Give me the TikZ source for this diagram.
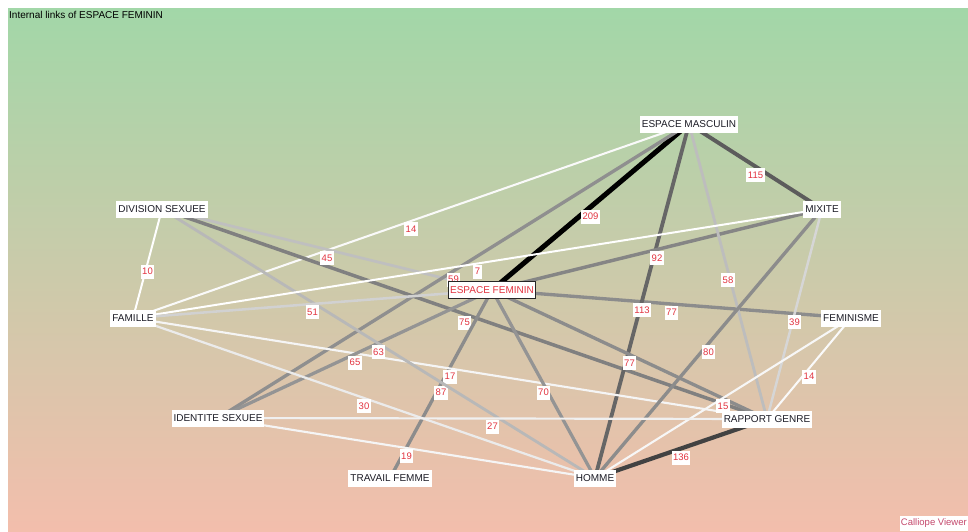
\documentclass[tikz,border=0pt]{standalone}
\usepackage{fontspec}
\setmainfont{Liberation Sans}
\usepackage{xcolor}
\usetikzlibrary{backgrounds}

\definecolor{bg_top}{RGB}{162,215,168}
\definecolor{bg_mid}{RGB}{208,204,164}
\definecolor{bg_bottom}{RGB}{243,190,172}
\definecolor{num_red}{RGB}{226,52,64}
\definecolor{term_ink}{RGB}{28,28,38}
\definecolor{viewer_pink}{RGB}{196,72,108}

\begin{document}
\begin{tikzpicture}[
    x=1pt, y=-1pt,
    term_node/.style={
        rectangle,
        fill=white,
        inner xsep=2pt,
        inner ysep=1pt,
        minimum height=17pt,
        text=term_ink,
        font=\fontsize{10}{11}\selectfont
    },
    focus_node/.style={
        term_node,
        draw=black!85,
        line width=0.9pt,
        text=num_red
    },
    weight_label/.style={
        rectangle,
        fill=white,
        inner xsep=1.5pt,
        inner ysep=0pt,
        minimum height=14pt,
        text=num_red,
        font=\fontsize{9.5}{10}\selectfont,
        midway,
        anchor=north
    },
    link_line/.style={
        draw=black!#1,
        line width=2pt+0.03pt*#1
    }
]
    \useasboundingbox (0,0) rectangle (968,531);

    % Terms
    \node (em)  [term_node] at (689,124) {ESPACE MASCULIN};
    \node (ds)  [term_node] at (162,209) {DIVISION SEXUEE};
    \node (mix) [term_node] at (822,209) {MIXITE};
    \node (ef)  [focus_node] at (492,290) {ESPACE FEMININ};
    \node (fam) [term_node] at (133,318) {FAMILLE};
    \node (fem) [term_node] at (851,318) {FEMINISME};
    \node (is)  [term_node] at (218,418) {IDENTITE SEXUEE};
    \node (rg)  [term_node] at (767,419) {RAPPORT GENRE};
    \node (tf)  [term_node] at (390,478) {TRAVAIL FEMME};
    \node (hom) [term_node] at (595,478) {HOMME};

    % Title and footer
    \node (title) [anchor=west, inner sep=0pt, font=\fontsize{10}{11}\selectfont] at (9,15) {Internal links of ESPACE FEMININ};
    \node (viewer) [anchor=south east, fill=white, inner xsep=1pt, inner ysep=3pt, text=viewer_pink, font=\fontsize{9.5}{10}\selectfont] at (968,531) {Calliope Viewer};

    \begin{scope}[on background layer]
        \fill[white] (0,0) rectangle (968,531);
        \shade[top color=bg_top, middle color=bg_mid, bottom color=bg_bottom] (8,8) rectangle (968,531);

        % Links, weighted
        \draw [link_line=2]   (em.center)  -- node[weight_label] {14}  (fam.center);
        \draw [link_line=50]  (ds.center)  -- node[weight_label] {75}  (rg.center);
        \draw [link_line=25]  (ds.center)  -- node[weight_label] {45}  (ef.center);
        \draw [link_line=0]   (ds.center)  -- node[weight_label] {10}  (fam.center);
        \draw [link_line=100] (em.center)  -- node[weight_label] {209} (ef.center);
        \draw [link_line=64]  (em.center)  -- node[weight_label] {115} (mix.center);
        \draw [link_line=44]  (em.center)  -- node[weight_label] {59}  (is.center);
        \draw [link_line=45]  (ef.center)  -- node[weight_label] {77}  (fem.center);
        \draw [link_line=60]  (em.center)  -- node[weight_label] {113} (hom.center);
        \draw [link_line=45]  (ef.center)  -- node[weight_label] {77}  (rg.center);
        \draw [link_line=48]  (ef.center)  -- node[weight_label] {92}  (mix.center);
        \draw [link_line=16]  (mix.center) -- node[weight_label] {39}  (rg.center);
        \draw [link_line=26]  (em.center)  -- node[weight_label] {58}  (rg.center);
        \draw [link_line=45]  (tf.center)  -- node[weight_label] {87}  (ef.center);
        \draw [link_line=4]   (fam.center) -- node[weight_label] {17}  (rg.center);
        \draw [link_line=42]  (is.center)  -- node[weight_label] {65}  (ef.center);
        \draw [link_line=28]  (ds.center)  -- node[weight_label] {63}  (hom.center);
        \draw [link_line=3]   (fem.center) -- node[weight_label] {15}  (hom.center);
        \draw [link_line=0]   (fam.center) -- node[weight_label] {7}   (mix.center);
        \draw [link_line=18]  (fam.center) -- node[weight_label] {51}  (ef.center);
        \draw [link_line=8]   (fam.center) -- node[weight_label] {30}  (hom.center);
        \draw [link_line=42]  (ef.center)  -- node[weight_label] {70}  (hom.center);
        \draw [link_line=45]  (mix.center) -- node[weight_label] {80}  (hom.center);
        \draw [link_line=2]   (fem.center) -- node[weight_label] {14}  (rg.center);
        \draw [link_line=74]  (hom.center) -- node[weight_label] {136} (rg.center);
        \draw [link_line=6]   (is.center)  -- node[weight_label] {27}  (rg.center);
        \draw [link_line=4]   (is.center)  -- node[weight_label] {19}  (hom.center);
    \end{scope}

\end{tikzpicture}
\end{document}
